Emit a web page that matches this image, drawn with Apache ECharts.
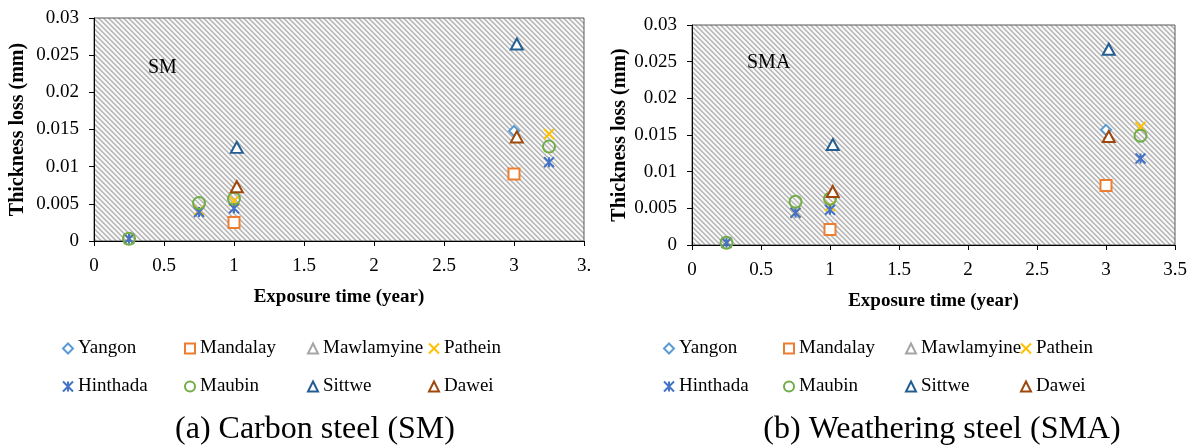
<!DOCTYPE html>
<html>
<head>
<meta charset="utf-8">
<script src="https://cdn.jsdelivr.net/npm/echarts@6/dist/echarts.min.js"></script>
<style>
  html, body { margin: 0; padding: 0; background: #fff; }
  #chart { width: 1198px; height: 445px; }
</style>
</head>
<body>
<div id="chart"></div>
<script>
// Thickness loss of bare steel coupons at eight Myanmar exposure sites.
const cities = ['Yangon', 'Mandalay', 'Mawlamyine', 'Pathein', 'Hinthada', 'Maubin', 'Sittwe', 'Dawei'];

// Carbon steel (SM): [exposure time (year), thickness loss (mm)]
const smYangon     = [[3, 0.0148]];
const smMandalay   = [[1, 0.0025], [3, 0.0090]];
const smMawlamyine = [];
const smPathein    = [[0.25, 0.0003], [0.75, 0.0041], [1, 0.0054], [3.25, 0.0144]];
const smHinthada   = [[0.25, 0.0003], [0.75, 0.0039], [1, 0.0044], [3.25, 0.0106]];
const smMaubin     = [[0.25, 0.0003], [0.75, 0.0051], [1, 0.0057], [3.25, 0.0127]];
const smSittwe     = [[1.02, 0.0126], [3.02, 0.0265]];
const smDawei      = [[1.02, 0.0073], [3.02, 0.0140]];

// Weathering steel (SMA)
const smaYangon     = [[3, 0.0157]];
const smaMandalay   = [[1, 0.0021], [3, 0.0081]];
const smaMawlamyine = [];
const smaPathein    = [[0.25, 0.0003], [0.75, 0.0044], [1, 0.0053], [3.25, 0.0161]];
const smaHinthada   = [[0.25, 0.0003], [0.75, 0.0044], [1, 0.0048], [3.25, 0.0118]];
const smaMaubin     = [[0.25, 0.0003], [0.75, 0.0059], [1, 0.0063], [3.25, 0.0149]];
const smaSittwe     = [[1.02, 0.0137], [3.02, 0.0267]];
const smaDawei      = [[1.02, 0.0073], [3.02, 0.0148]];

const yTickLabels  = ['0', '0.005', '0.01', '0.015', '0.02', '0.025', '0.03'];
const xTickLabelsA = ['0', '0.5', '1', '1.5', '2', '2.5', '3', '3.'];
const xTickLabelsB = ['0', '0.5', '1', '1.5', '2', '2.5', '3', '3.5'];

const smSets  = [smYangon, smMandalay, smMawlamyine, smPathein, smHinthada, smMaubin, smSittwe, smDawei];
const smaSets = [smaYangon, smaMandalay, smaMawlamyine, smaPathein, smaHinthada, smaMaubin, smaSittwe, smaDawei];

const FONT = '"Liberation Serif", "Times New Roman", serif';

// marker look per site
const CROSS = 'path://M0,0L10,10M10,0L0,10';
const STAR = 'path://M0,0L10,10M10,0L0,10M5,0L5,10';
const markerStyles = [
  { symbol: 'diamond',  size: 10,       color: '#5B9BD5', fill: '#ffffff' },
  { symbol: 'rect',     size: 11,       color: '#ED7D31', fill: '#ffffff' },
  { symbol: 'triangle', size: [12, 11], color: '#A5A5A5', fill: '#ffffff' },
  { symbol: CROSS,      size: 10,       color: '#FFC000', fill: 'transparent' },
  { symbol: STAR,       size: 10,       color: '#4472C4', fill: 'transparent' },
  { symbol: 'circle',   size: 12,       color: '#70AD47', fill: 'transparent' },
  { symbol: 'triangle', size: [12, 11], color: '#255E91', fill: '#ffffff' },
  { symbol: 'triangle', size: [12, 11], color: '#9E480E', fill: '#ffffff' }
];

// diagonal hatch fill for the plot areas
function hatchTile() {
  const n = 5;
  const c = document.createElement('canvas');
  c.width = n; c.height = n;
  const ctx = c.getContext('2d');
  const shades = [185, 190, 238, 255, 238];
  for (let y = 0; y < n; y++) {
    for (let x = 0; x < n; x++) {
      const d = ((x - y) % n + n) % n;
      const g = shades[d];
      ctx.fillStyle = 'rgb(' + g + ',' + g + ',' + g + ')';
      ctx.fillRect(x, y, 1, 1);
    }
  }
  return c;
}
const hatch = { image: hatchTile(), repeat: 'repeat' };

const grids = [
  { left: 94, top: 18, width: 490, height: 223 },
  { left: 692, top: 25, width: 483, height: 220 }
];

function makeXAxis(idx, labels) {
  return {
    type: 'value', gridIndex: idx, min: 0, max: 3.5, interval: 0.5,
    name: 'Exposure time (year)', nameLocation: 'middle', nameGap: 47,
    nameTextStyle: { fontFamily: FONT, fontSize: 19, fontWeight: 'bold', color: '#000' },
    axisLine: { show: true, lineStyle: { color: '#000', width: 1 } },
    axisTick: { show: true, length: 5, lineStyle: { color: '#000' } },
    axisLabel: {
      margin: 16, fontFamily: FONT, fontSize: 19, color: '#000',
      formatter: v => labels[Math.round(v / 0.5)]
    },
    splitLine: { show: false }
  };
}

function makeYAxis(idx, gap) {
  return {
    type: 'value', gridIndex: idx, min: 0, max: 0.03, interval: 0.005,
    name: 'Thickness loss (mm)', nameLocation: 'middle', nameGap: gap, nameRotate: 90,
    nameTextStyle: { fontFamily: FONT, fontSize: 20, fontWeight: 'bold', color: '#000' },
    axisLine: { show: true, lineStyle: { color: '#000', width: 1 } },
    axisTick: { show: true, length: 5, lineStyle: { color: '#000' } },
    axisLabel: {
      margin: 15, fontFamily: FONT, fontSize: 19, color: '#000',
      formatter: v => yTickLabels[Math.round(v / 0.005)]
    },
    splitLine: { show: false }
  };
}

const series = [];
[smSets, smaSets].forEach((sets, g) => {
  sets.forEach((data, i) => {
    const m = markerStyles[i];
    series.push({
      type: 'scatter', name: cities[i], xAxisIndex: g, yAxisIndex: g,
      data: data, symbol: m.symbol, symbolSize: m.size,
      itemStyle: { color: m.fill, borderColor: m.color, borderWidth: 2, opacity: 1 },
      emphasis: { disabled: true },
      z: 3 + i
    });
  });
});

// legend: two rows of four columns under each plot
const legendCols = [[62, 184, 307, 428], [663, 783, 905, 1020]];
const legendRows = [339, 377];
const legends = [];
legendCols.forEach(cols => {
  cities.forEach((name, i) => {
    legends.push({
      data: [name], left: cols[i % 4], top: legendRows[Math.floor(i / 4)],
      padding: 0, itemWidth: 10, itemHeight: 10, itemGap: 0,
      selectedMode: false,
      itemStyle: { borderWidth: 2, opacity: 1 },
      textStyle: { fontFamily: FONT, fontSize: 19, color: '#000' }
    });
  });
});

const chart = echarts.init(document.getElementById('chart'), null, { renderer: 'canvas' });
chart.setOption({
  animation: false,
  backgroundColor: '#ffffff',
  title: [
    { text: 'SM', left: 148, top: 58, padding: 0,
      textStyle: { fontFamily: FONT, fontSize: 20, fontWeight: 'normal', color: '#000' } },
    { text: 'SMA', left: 747, top: 53, padding: 0,
      textStyle: { fontFamily: FONT, fontSize: 20, fontWeight: 'normal', color: '#000' } },
    { text: '(a) Carbon steel (SM)', left: 315, top: 414, padding: 0, textAlign: 'center',
      textStyle: { fontFamily: FONT, fontSize: 32, fontWeight: 'normal', color: '#000' } },
    { text: '(b) Weathering steel (SMA)', left: 942, top: 414, padding: 0, textAlign: 'center',
      textStyle: { fontFamily: FONT, fontSize: 32, fontWeight: 'normal', color: '#000' } }
  ],
  grid: grids.map(g => Object.assign({
    show: true, backgroundColor: hatch, borderColor: '#595959', borderWidth: 1
  }, g)),
  xAxis: [makeXAxis(0, xTickLabelsA), makeXAxis(1, xTickLabelsB)],
  yAxis: [makeYAxis(0, 66), makeYAxis(1, 62)],
  legend: legends,
  series: series
});
</script>
</body>
</html>
